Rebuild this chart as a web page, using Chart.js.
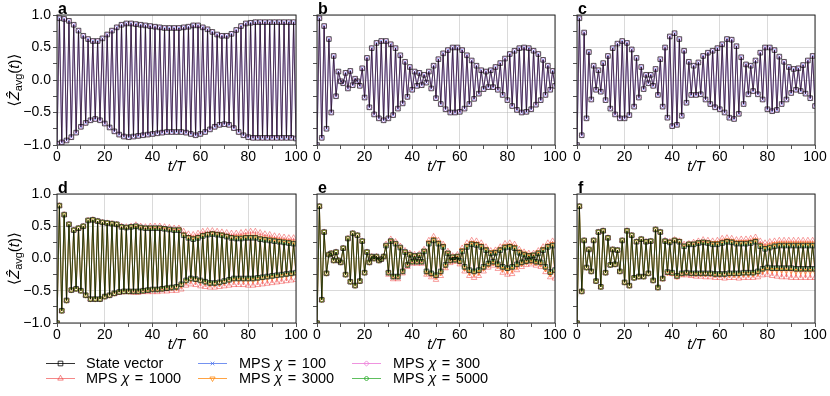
<!DOCTYPE html>
<html>
<head>
<meta charset="utf-8">
<script src="https://cdn.jsdelivr.net/npm/chart.js@4.4.0/dist/chart.umd.min.js"></script>
<style>
  html, body { margin: 0; padding: 0; background: #fff; }
  #fig { position: relative; width: 830px; height: 396px; overflow: hidden; }
  #fig canvas { position: absolute; }
</style>
</head>
<body>
<div id="fig"></div>
<script>
/* ===== data ===== */
const times = [0,1,2,3,4,5,6,7,8,9,10,11,12,13,14,15,16,17,18,19,20,21,22,23,24,25,26,27,28,29,30,
  31,32,33,34,35,36,37,38,39,40,41,42,43,44,45,46,47,48,49,50,51,52,53,54,55,56,57,58,59,60,
  61,62,63,64,65,66,67,68,69,70,71,72,73,74,75,76,77,78,79,80,81,82,83,84,85,86,87,88,89,90,
  91,92,93,94,95,96,97,98,99,100];

// top row: state vector (MPS chi=100 / 300 sit on top of it)
const panelA = [-0.98,0.95,-0.96,0.94,-0.93,0.91,-0.88,0.85,-0.81,0.76,
  -0.72,0.68,-0.66,0.63,-0.62,0.6,-0.6,0.6,-0.62,0.64,
  -0.67,0.7,-0.73,0.76,-0.79,0.81,-0.84,0.85,-0.87,0.87,
  -0.88,0.87,-0.87,0.86,-0.86,0.85,-0.85,0.84,-0.84,0.83,
  -0.83,0.82,-0.82,0.81,-0.81,0.8,-0.8,0.8,-0.8,0.8,
  -0.8,0.8,-0.8,0.81,-0.81,0.82,-0.83,0.84,-0.85,0.84,
  -0.83,0.81,-0.8,0.78,-0.76,0.74,-0.72,0.7,-0.69,0.68,
  -0.68,0.68,-0.69,0.71,-0.74,0.77,-0.8,0.83,-0.85,0.87,
  -0.88,0.88,-0.89,0.89,-0.89,0.89,-0.89,0.89,-0.89,0.89,
  -0.89,0.89,-0.89,0.89,-0.89,0.89,-0.89,0.89,-0.89,0.89,
  -0.9];
const panelB = [-1.0,0.95,-0.89,0.83,-0.75,0.63,-0.5,0.37,-0.25,0.13,
  -0.02,-0.05,0.11,-0.13,0.14,-0.08,0.02,-0.02,-0.09,0.18,
  -0.27,0.34,-0.42,0.49,-0.53,0.57,-0.59,0.6,-0.62,0.6,
  -0.59,0.55,-0.54,0.49,-0.44,0.38,-0.36,0.28,-0.26,0.2,
  -0.15,0.13,-0.09,0.11,-0.08,0.08,-0.04,0.13,-0.13,0.22,
  -0.28,0.32,-0.37,0.41,-0.45,0.46,-0.5,0.5,-0.5,0.5,
  -0.49,0.46,-0.44,0.38,-0.37,0.3,-0.29,0.22,-0.21,0.15,
  -0.14,0.13,-0.11,0.15,-0.11,0.2,-0.15,0.26,-0.23,0.33,
  -0.31,0.4,-0.4,0.45,-0.46,0.49,-0.5,0.5,-0.49,0.49,
  -0.45,0.45,-0.38,0.4,-0.31,0.31,-0.23,0.22,-0.15,0.14,
  -0.09];
const panelC = [-1.0,0.95,-0.85,0.73,-0.59,0.43,-0.3,0.22,-0.15,0.15,
  -0.18,0.26,-0.31,0.37,-0.44,0.49,-0.53,0.56,-0.59,0.6,
  -0.59,0.57,-0.54,0.47,-0.41,0.34,-0.27,0.2,-0.14,0.08,
  -0.05,0.08,-0.09,0.17,-0.23,0.32,-0.41,0.5,-0.58,0.67,
  -0.71,0.72,-0.69,0.63,-0.55,0.45,-0.35,0.28,-0.23,0.22,
  -0.23,0.27,-0.22,0.37,-0.3,0.42,-0.37,0.45,-0.42,0.49,
  -0.45,0.55,-0.5,0.63,-0.58,0.62,-0.6,0.52,-0.52,0.35,
  -0.37,0.24,-0.22,0.22,-0.17,0.3,-0.22,0.42,-0.3,0.5,
  -0.45,0.5,-0.48,0.46,-0.46,0.36,-0.37,0.28,-0.3,0.2,
  -0.2,0.17,-0.15,0.18,-0.17,0.23,-0.21,0.3,-0.28,0.37,
  -0.4];

// bottom row: state vector (MPS chi=5000 sits on top of it), chi=1000, chi=3000
const panelD = [-1.0,0.82,-0.81,0.68,-0.65,0.53,-0.49,0.44,-0.47,0.47,
  -0.5,0.5,-0.57,0.59,-0.63,0.6,-0.63,0.58,-0.63,0.56,
  -0.59,0.55,-0.57,0.54,-0.54,0.53,-0.52,0.49,-0.51,0.48,
  -0.51,0.49,-0.51,0.5,-0.51,0.48,-0.5,0.47,-0.49,0.47,
  -0.48,0.47,-0.48,0.47,-0.47,0.46,-0.46,0.45,-0.45,0.44,
  -0.44,0.44,-0.4,0.36,-0.34,0.32,-0.31,0.3,-0.32,0.32,
  -0.34,0.35,-0.36,0.37,-0.38,0.38,-0.38,0.37,-0.37,0.36,
  -0.35,0.34,-0.33,0.32,-0.31,0.31,-0.31,0.31,-0.31,0.32,
  -0.31,0.32,-0.31,0.32,-0.3,0.3,-0.29,0.29,-0.28,0.28,
  -0.27,0.27,-0.26,0.26,-0.25,0.25,-0.24,0.24,-0.23,0.23,
  -0.22];
const panelD1000 = [-1.0,0.82,-0.81,0.68,-0.65,0.53,-0.49,0.44,-0.47,0.47,
  -0.5,0.5,-0.57,0.59,-0.63,0.6,-0.63,0.58,-0.63,0.56,
  -0.59,0.55,-0.57,0.54,-0.55,0.53,-0.53,0.5,-0.52,0.49,
  -0.52,0.5,-0.53,0.52,-0.53,0.5,-0.52,0.49,-0.52,0.5,
  -0.52,0.5,-0.52,0.5,-0.51,0.49,-0.51,0.48,-0.5,0.47,
  -0.5,0.47,-0.48,0.42,-0.42,0.38,-0.4,0.37,-0.41,0.39,
  -0.43,0.42,-0.44,0.43,-0.45,0.43,-0.45,0.42,-0.44,0.41,
  -0.43,0.4,-0.42,0.39,-0.41,0.39,-0.41,0.4,-0.41,0.41,
  -0.42,0.42,-0.42,0.42,-0.41,0.4,-0.4,0.38,-0.39,0.37,
  -0.38,0.35,-0.37,0.34,-0.36,0.33,-0.35,0.32,-0.34,0.32,
  -0.33];
const panelD3000 = [-1.0,0.82,-0.81,0.68,-0.65,0.53,-0.49,0.44,-0.47,0.47,
  -0.5,0.5,-0.57,0.59,-0.63,0.6,-0.63,0.58,-0.63,0.56,
  -0.59,0.55,-0.57,0.54,-0.54,0.53,-0.52,0.49,-0.51,0.48,
  -0.51,0.49,-0.51,0.5,-0.51,0.48,-0.5,0.47,-0.49,0.47,
  -0.48,0.47,-0.48,0.47,-0.47,0.46,-0.46,0.45,-0.45,0.44,
  -0.45,0.45,-0.41,0.37,-0.35,0.33,-0.32,0.32,-0.33,0.33,
  -0.35,0.36,-0.37,0.38,-0.39,0.39,-0.39,0.38,-0.38,0.37,
  -0.36,0.35,-0.34,0.33,-0.33,0.33,-0.33,0.33,-0.33,0.34,
  -0.33,0.34,-0.33,0.34,-0.32,0.32,-0.31,0.31,-0.3,0.3,
  -0.29,0.29,-0.28,0.28,-0.27,0.27,-0.26,0.26,-0.25,0.25,
  -0.24];

const panelE = [-1.0,0.81,-0.64,0.41,-0.23,0.06,0.08,-0.03,0.1,-0.03,
  -0.06,0.16,-0.25,0.31,-0.36,0.39,-0.42,0.36,-0.35,0.27,
  -0.22,0.1,-0.06,0.03,0.0,0.03,-0.03,-0.01,0.03,0.2,
  -0.22,0.27,-0.28,0.23,-0.28,0.17,-0.2,0.1,-0.1,0.06,
  -0.05,0.04,-0.05,0.05,-0.05,0.11,-0.2,0.23,-0.23,0.28,
  -0.26,0.23,-0.2,0.18,-0.1,0.08,-0.03,0.02,-0.02,0.03,
  -0.04,0.11,-0.13,0.18,-0.18,0.22,-0.2,0.21,-0.18,0.18,
  -0.13,0.13,-0.08,0.08,-0.05,0.09,-0.09,0.13,-0.13,0.17,
  -0.15,0.18,-0.13,0.16,-0.09,0.09,-0.06,0.06,-0.04,0.04,
  -0.03,0.05,-0.05,0.08,-0.06,0.13,-0.13,0.18,-0.21,0.2,
  -0.18];
const panelE1000 = [-1.0,0.81,-0.64,0.41,-0.23,0.06,0.08,-0.03,0.1,-0.03,
  -0.06,0.16,-0.25,0.31,-0.36,0.39,-0.42,0.36,-0.35,0.27,
  -0.22,0.1,-0.06,0.03,0.0,0.03,-0.03,-0.01,0.03,0.22,
  -0.25,0.3,-0.32,0.26,-0.32,0.19,-0.23,0.12,-0.13,0.08,
  -0.08,0.06,-0.08,0.07,-0.08,0.14,-0.25,0.28,-0.29,0.34,
  -0.33,0.28,-0.27,0.22,-0.15,0.11,-0.07,0.04,-0.05,0.06,
  -0.09,0.16,-0.2,0.24,-0.27,0.28,-0.3,0.27,-0.27,0.24,
  -0.2,0.18,-0.14,0.12,-0.11,0.13,-0.16,0.18,-0.22,0.23,
  -0.25,0.24,-0.24,0.22,-0.18,0.14,-0.13,0.1,-0.1,0.08,
  -0.09,0.08,-0.11,0.12,-0.13,0.18,-0.21,0.24,-0.29,0.27,
  -0.31];
const panelE3000 = [-1.0,0.81,-0.64,0.41,-0.23,0.06,0.08,-0.03,0.1,-0.03,
  -0.06,0.16,-0.25,0.31,-0.36,0.39,-0.42,0.36,-0.35,0.27,
  -0.22,0.1,-0.06,0.03,0.0,0.03,-0.03,-0.01,0.03,0.2,
  -0.22,0.27,-0.28,0.23,-0.28,0.17,-0.2,0.1,-0.1,0.06,
  -0.05,0.04,-0.05,0.05,-0.05,0.12,-0.22,0.25,-0.25,0.3,
  -0.28,0.25,-0.22,0.2,-0.12,0.09,-0.04,0.03,-0.03,0.04,
  -0.06,0.13,-0.15,0.2,-0.21,0.24,-0.23,0.23,-0.21,0.2,
  -0.15,0.15,-0.1,0.1,-0.07,0.11,-0.11,0.15,-0.16,0.19,
  -0.18,0.2,-0.17,0.18,-0.12,0.11,-0.08,0.08,-0.06,0.06,
  -0.05,0.06,-0.07,0.1,-0.09,0.15,-0.16,0.2,-0.24,0.22,
  -0.22];

const panelF = [-1.0,0.81,-0.51,0.28,-0.14,0.14,-0.2,0.28,-0.35,0.41,
  -0.44,0.43,-0.22,0.32,-0.1,0.14,-0.09,0.13,-0.2,0.28,
  -0.37,0.43,-0.42,0.36,-0.3,0.26,-0.28,0.3,-0.28,0.26,
  -0.23,0.27,-0.34,0.45,-0.45,0.41,-0.31,0.27,-0.21,0.25,
  -0.22,0.28,-0.27,0.26,-0.23,0.19,-0.22,0.22,-0.23,0.22,
  -0.23,0.24,-0.23,0.25,-0.23,0.24,-0.23,0.22,-0.24,0.22,
  -0.24,0.24,-0.24,0.26,-0.23,0.25,-0.23,0.23,-0.23,0.23,
  -0.22,0.23,-0.22,0.24,-0.22,0.26,-0.2,0.19,-0.16,0.15,
  -0.14,0.17,-0.15,0.19,-0.15,0.2,-0.15,0.2,-0.15,0.2,
  -0.15,0.2,-0.16,0.2,-0.16,0.2,-0.16,0.2,-0.16,0.2,
  -0.16];
const panelF1000 = [-1.0,0.81,-0.51,0.28,-0.14,0.14,-0.2,0.28,-0.35,0.41,
  -0.44,0.43,-0.22,0.32,-0.1,0.14,-0.09,0.13,-0.2,0.28,
  -0.37,0.43,-0.42,0.36,-0.3,0.26,-0.28,0.3,-0.28,0.26,
  -0.23,0.27,-0.34,0.45,-0.45,0.41,-0.32,0.28,-0.23,0.26,
  -0.24,0.29,-0.29,0.27,-0.26,0.22,-0.26,0.23,-0.27,0.25,
  -0.28,0.27,-0.28,0.29,-0.29,0.28,-0.29,0.27,-0.3,0.28,
  -0.3,0.31,-0.31,0.32,-0.3,0.31,-0.3,0.29,-0.31,0.3,
  -0.3,0.3,-0.3,0.31,-0.3,0.33,-0.29,0.27,-0.26,0.24,
  -0.25,0.26,-0.27,0.27,-0.28,0.28,-0.29,0.28,-0.29,0.28,
  -0.3,0.28,-0.3,0.28,-0.3,0.28,-0.3,0.28,-0.3,0.28,
  -0.3];
const panelF3000 = [-1.0,0.81,-0.51,0.28,-0.14,0.14,-0.2,0.28,-0.35,0.41,
  -0.44,0.43,-0.22,0.32,-0.1,0.14,-0.09,0.13,-0.2,0.28,
  -0.37,0.43,-0.42,0.36,-0.3,0.26,-0.28,0.3,-0.28,0.26,
  -0.23,0.27,-0.34,0.45,-0.45,0.41,-0.31,0.27,-0.22,0.26,
  -0.23,0.29,-0.28,0.27,-0.24,0.2,-0.23,0.23,-0.24,0.23,
  -0.24,0.25,-0.24,0.26,-0.24,0.25,-0.24,0.24,-0.25,0.24,
  -0.25,0.26,-0.25,0.28,-0.25,0.27,-0.25,0.25,-0.25,0.25,
  -0.24,0.25,-0.24,0.26,-0.24,0.28,-0.22,0.21,-0.19,0.18,
  -0.17,0.2,-0.18,0.22,-0.18,0.23,-0.18,0.23,-0.19,0.23,
  -0.19,0.23,-0.2,0.23,-0.2,0.23,-0.2,0.23,-0.2,0.23,
  -0.2];

const xTicks = [0, 20, 40, 60, 80, 100];
const yTicks = [-1.0, -0.5, 0.0, 0.5, 1.0];

/* ===== styles ===== */
const FONT = '"Liberation Sans", Arial, sans-serif';

const seriesStyle = {
  sv:    { label: 'State vector', chi: null,   color: 'rgba(0,0,0,0.8)',      point: 'rect',     radius: 3.3, rot: 0 },
  c100:  { label: 'MPS', chi: '100',  color: 'rgba(70,110,235,0.75)',  point: 'crossRot', radius: 2.6, rot: 0 },
  c300:  { label: 'MPS', chi: '300',  color: 'rgba(235,120,215,0.8)',  point: 'rectRot',  radius: 2.6, rot: 0 },
  c1000: { label: 'MPS', chi: '1000', color: 'rgba(240,70,70,0.65)',   point: 'triangle', radius: 3.2, rot: 0 },
  c3000: { label: 'MPS', chi: '3000', color: 'rgba(255,140,20,0.8)',   point: 'triangle', radius: 3.0, rot: 180 },
  c5000: { label: 'MPS', chi: '5000', color: 'rgba(40,170,40,0.75)',   point: 'circle',   radius: 2.0, rot: 0 }
};

// first dataset is drawn on top
const panels = [
  { letter: 'a', L: 57,  R: 296, T: 15,  B: 145, ylab: true,  sets: [['sv', panelA], ['c300', panelA], ['c100', panelA]] },
  { letter: 'b', L: 317, R: 555, T: 15,  B: 145, ylab: false, sets: [['sv', panelB], ['c300', panelB], ['c100', panelB]] },
  { letter: 'c', L: 577, R: 815, T: 15,  B: 145, ylab: false, sets: [['sv', panelC], ['c300', panelC], ['c100', panelC]] },
  { letter: 'd', L: 57,  R: 296, T: 194, B: 323, ylab: true,  sets: [['sv', panelD], ['c5000', panelD], ['c3000', panelD3000], ['c1000', panelD1000]] },
  { letter: 'e', L: 317, R: 555, T: 194, B: 323, ylab: false, sets: [['sv', panelE], ['c5000', panelE], ['c3000', panelE3000], ['c1000', panelE1000]] },
  { letter: 'f', L: 577, R: 815, T: 194, B: 323, ylab: false, sets: [['sv', panelF], ['c5000', panelF], ['c3000', panelF3000], ['c1000', panelF1000]] }
];

const Y_W = 57, X_H = 31, PAD_T = 15, PAD_R = 14;

/* draw a row of text pieces with different fonts */
const drawParts = (ctx, parts, x, y, align) => {
  let total = 0;
  parts.forEach(p => {
    if (p.gap) { total += p.gap; return; }
    ctx.font = p.font;
    p.w = ctx.measureText(p.t).width;
    total += p.w;
  });
  let cx = align === 'center' ? x - total / 2 : x;
  parts.forEach(p => {
    if (p.gap) { cx += p.gap; return; }
    ctx.font = p.font;
    ctx.fillText(p.t, cx, y + (p.dy || 0));
    cx += p.w;
  });
};

const deco = {
  id: 'deco',
  afterDraw(chart, args, opts) {
    const { ctx, chartArea: a } = chart;
    ctx.save();
    // full box
    ctx.strokeStyle = '#262626';
    ctx.lineWidth = 1;
    ctx.strokeRect(a.left, a.top, a.right - a.left, a.bottom - a.top);
    // panel letter
    ctx.fillStyle = '#000';
    ctx.textBaseline = 'alphabetic';
    ctx.textAlign = 'left';
    ctx.font = 'bold 16px ' + FONT;
    ctx.fillText(opts.letter, a.left + 1, a.top - 1);
    // y label
    if (opts.ylab) {
      ctx.translate(15, (a.top + a.bottom) / 2);
      ctx.rotate(-Math.PI / 2);
      ctx.textBaseline = 'middle';
      const n = '15px ' + FONT, it = 'italic 15px ' + FONT;
      drawParts(ctx, [
        { t: '\u27E8', font: '15px "DejaVu Sans"' },
        { t: '\u1E90', font: it },
        { t: 'avg', font: '11px ' + FONT, dy: 4 },
        { t: '(', font: n },
        { t: 't', font: it },
        { t: ')', font: n },
        { t: '\u27E9', font: '15px "DejaVu Sans"' }
      ], 0, 0, 'center');
    }
    ctx.restore();
  }
};

const makeDataset = (key, vals) => {
  const s = seriesStyle[key];
  return {
    label: key,
    data: times.map((t, i) => ({ x: t, y: vals[i] })),
    borderColor: s.color,
    borderWidth: 0.8,
    pointStyle: s.point,
    pointRadius: s.radius,
    pointRotation: s.rot,
    pointBorderColor: s.color,
    pointBackgroundColor: 'rgba(0,0,0,0)',
    pointBorderWidth: 0.8,
    tension: 0,
    fill: false
  };
};

const fig = document.getElementById('fig');

panels.forEach(p => {
  const W = Y_W + (p.R - p.L) + PAD_R;
  const H = PAD_T + (p.B - p.T) + X_H;
  const cv = document.createElement('canvas');
  cv.width = W; cv.height = H;
  cv.style.left = (p.L - Y_W) + 'px';
  cv.style.top = (p.T - PAD_T) + 'px';
  cv.style.width = W + 'px';
  cv.style.height = H + 'px';
  fig.appendChild(cv);

  new Chart(cv, {
    type: 'line',
    data: { datasets: p.sets.map(([k, v]) => makeDataset(k, v)) },
    options: {
      responsive: false,
      animation: false,
      devicePixelRatio: 1,
      events: [],
      layout: { padding: { top: PAD_T, right: PAD_R, left: 0, bottom: 0 } },
      plugins: {
        legend: { display: false },
        tooltip: { enabled: false },
        deco: { letter: p.letter, ylab: p.ylab }
      },
      scales: {
        x: {
          type: 'linear', min: 0, max: 100,
          afterFit: s => { s.height = X_H; },
          border: { display: false },
          grid: {
            color: c => (c.tick && xTicks.includes(c.tick.value)) ? 'rgba(170,170,170,0.55)' : 'rgba(0,0,0,0)',
            lineWidth: 0.8, tickColor: '#262626', tickLength: 4, tickWidth: 0.8
          },
          ticks: {
            stepSize: 10, autoSkip: false, maxRotation: 0, padding: 0,
            color: '#000', font: { family: FONT, size: 14 },
            callback: v => xTicks.includes(v) ? String(v) : ''
          },
          title: {
            display: true, text: 't/T', color: '#000',
            font: { family: FONT, size: 15, style: 'italic' },
            padding: { top: 0, bottom: 0 }
          }
        },
        y: {
          min: -1, max: 1,
          afterFit: s => { s.width = Y_W; },
          border: { display: false },
          grid: {
            color: c => (c.tick && yTicks.some(t => Math.abs(t - c.tick.value) < 1e-6)) ? 'rgba(170,170,170,0.55)' : 'rgba(0,0,0,0)',
            lineWidth: 0.8, tickColor: '#262626', tickLength: 4, tickWidth: 0.8
          },
          ticks: {
            stepSize: 0.25, autoSkip: false, padding: 2,
            color: '#000', font: { family: FONT, size: 14 },
            callback: v => {
              if (!p.ylab) return '';
              const major = yTicks.find(t => Math.abs(t - v) < 1e-6);
              return major === undefined ? '' : major.toFixed(1).replace('-', '\u2212');
            }
          }
        }
      }
    },
    plugins: [deco]
  });
});

/* ===== legend ===== */
const legendOrder = [['sv', 0, 0], ['c100', 1, 0], ['c300', 2, 0], ['c1000', 0, 1], ['c3000', 1, 1], ['c5000', 2, 1]];
const lg = document.createElement('canvas');
lg.width = 830; lg.height = 46;
lg.style.left = '0px'; lg.style.top = '350px';
lg.style.width = '830px'; lg.style.height = '46px';
fig.appendChild(lg);
const lctx = lg.getContext('2d');
const colLine = [46, 198, 352], colText = [86, 239, 393], rowY = [13.5, 28.5];
const LF = '14.5px ' + FONT, LFI = 'italic 14.5px ' + FONT;

legendOrder.forEach(([key, col, row]) => {
  const s = seriesStyle[key];
  const y = rowY[row];
  const x0 = colLine[col], x1 = x0 + 29;
  lctx.strokeStyle = s.color;
  lctx.lineWidth = 1;
  lctx.beginPath(); lctx.moveTo(x0, y); lctx.lineTo(x1, y); lctx.stroke();
  lctx.fillStyle = 'rgba(0,0,0,0)';
  if (Chart.helpers && Chart.helpers.drawPoint) {
    Chart.helpers.drawPoint(lctx, { pointStyle: s.point, rotation: s.rot, radius: s.radius, borderWidth: 0.8 }, (x0 + x1) / 2, y);
  }
  lctx.fillStyle = '#000';
  lctx.textBaseline = 'middle';
  const parts = s.chi === null
    ? [{ t: s.label, font: LF }]
    : [{ t: 'MPS ', font: LF }, { t: '\u03C7', font: LFI }, { gap: 5.5 }, { t: '=', font: LF }, { gap: 5.5 }, { t: s.chi, font: LF }];
  drawParts(lctx, parts, colText[col], y, 'left');
});
</script>
</body>
</html>
